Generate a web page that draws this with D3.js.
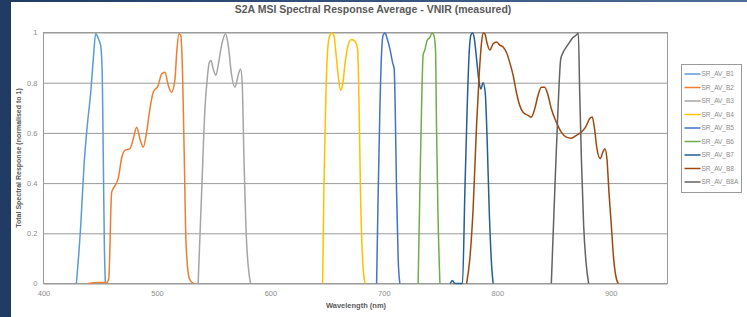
<!DOCTYPE html>
<html>
<head>
<meta charset="utf-8">
<script src="https://cdn.jsdelivr.net/npm/d3@7.9.0/dist/d3.min.js"></script>
<style>
  html, body { margin: 0; padding: 0; background: #fff; }
  svg { display: block; font-family: "Liberation Sans", Arial, sans-serif; }
</style>
</head>
<body>
<script>
// band names and colours (Excel 2013 palette)
const bands = ["SR_AV_B1", "SR_AV_B2", "SR_AV_B3", "SR_AV_B4", "SR_AV_B5", "SR_AV_B6", "SR_AV_B7", "SR_AV_B8", "SR_AV_B8A"]
const colors = ["#5b9bd5", "#ed7d31", "#a5a5a5", "#ffc000", "#4472c4", "#70ad47", "#255e91", "#9e480e", "#636363"]

// [wavelength nm, response]
const B1 = [[429, 0], [432.8, 0.23], [435.7, 0.47], [438.6, 0.63], [441.6, 0.76], [443.9, 0.895], [446, 0.995],
  [448.3, 0.976], [450.4, 0.948], [451.8, 0.83], [452.7, 0.5], [453.6, 0.165], [454.5, 0]]
const B2 = [[439.5, 0], [448, 0.004], [455.7, 0.004], [457.5, 0.02], [460.1, 0.364], [463, 0.39], [465.9, 0.42],
  [468.9, 0.5], [471.8, 0.53], [476.2, 0.537], [479.1, 0.576], [482.1, 0.623], [485, 0.576], [487.9, 0.543],
  [490.9, 0.603], [493.8, 0.696], [496.7, 0.762], [501.1, 0.789], [504.1, 0.835], [507, 0.842], [510, 0.789],
  [512.9, 0.762], [515.9, 0.815], [517.4, 0.92], [519.4, 0.995], [520.9, 0.99], [522.6, 0.83], [524.1, 0.497],
  [525.6, 0.165], [528.5, 0.02], [532, 0]]
const B3 = [[536.3, 0], [539.4, 0.365], [542.3, 0.696], [544.3, 0.815], [546.1, 0.88], [547.6, 0.888], [549.6, 0.855],
  [552, 0.83], [554, 0.87], [557, 0.95], [560.5, 0.995], [562.8, 0.95], [565.8, 0.83], [568.7, 0.782], [571.6, 0.83],
  [573.7, 0.855], [575.1, 0.802], [576.7, 0.497], [579, 0.165], [582.5, 0]]
const B4 = [[646, 0], [647.1, 0.365], [648.6, 0.696], [650, 0.895], [651.8, 0.98], [653.9, 0.998], [655.9, 0.99],
  [657.7, 0.92], [659.7, 0.83], [661.8, 0.77], [663.6, 0.79], [665.6, 0.87], [668.5, 0.95], [671.5, 0.972],
  [674.4, 0.965], [676.8, 0.935], [678.2, 0.696], [679.4, 0.365], [681.2, 0.1], [683.3, 0]]
const B5 = [[693.6, 0], [695, 0.365], [696.5, 0.696], [698, 0.92], [699.4, 0.99], [701.2, 0.998], [702.9, 0.975],
  [705.3, 0.935], [707.7, 0.88], [709.1, 0.855], [710, 0.696], [711.2, 0.365], [712.6, 0.1], [714.1, 0]]
const B6 = [[730.2, 0], [731.7, 0.365], [733.2, 0.696], [734.6, 0.91], [736.1, 0.93], [738.1, 0.968], [740.5, 0.98],
  [742.5, 0.998], [744, 0.99], [745.5, 0.935], [746.4, 0.63], [747.6, 0.3], [749.4, 0]]
const B7 = [[758.5, 0], [760.5, 0.012], [762.5, 0], [769.3, 0], [771.4, 0.365], [773.4, 0.696], [775.2, 0.92],
  [776.7, 0.99], [778.2, 0.998], [779.6, 0.98], [781.7, 0.895], [784, 0.8], [785.5, 0.775], [787.5, 0.8],
  [789.3, 0.762], [791.1, 0.563], [792.8, 0.3], [795, 0.07], [796.3, 0]]
const B8 = [[772.9, 0], [775.8, 0.1], [778.7, 0.3], [781.7, 0.63], [784, 0.83], [786.1, 0.96], [787.5, 0.998],
  [789, 0.995], [791.1, 0.955], [793.4, 0.93], [796.3, 0.955], [799.3, 0.962], [802.2, 0.95], [805.1, 0.942],
  [808.1, 0.92], [811, 0.88], [813.9, 0.83], [816.8, 0.762], [819.7, 0.71], [822.7, 0.682], [827.1, 0.67],
  [830, 0.663], [833, 0.696], [835.9, 0.75], [838.8, 0.782], [841.7, 0.782], [844.7, 0.75], [847.6, 0.696],
  [852, 0.643], [856.4, 0.603], [860.8, 0.583], [865.2, 0.579], [869.6, 0.59], [874, 0.603], [877.8, 0.623],
  [881.3, 0.656], [883.7, 0.663], [885.7, 0.616], [887.8, 0.537], [890.8, 0.497], [893, 0.523], [894.8, 0.537],
  [896.6, 0.497], [898.4, 0.364], [900.5, 0.23], [902.5, 0.1], [904.9, 0.02], [906.6, 0]]
const B8A = [[847.6, 0], [850.6, 0.365], [853.5, 0.696], [855.9, 0.895], [857.9, 0.92], [860.8, 0.942], [863.8, 0.962],
  [866.7, 0.98], [869.6, 0.99], [871.4, 0.998], [872.6, 0.762], [874.1, 0.497], [876.1, 0.23], [878.5, 0.07], [880.5, 0]]

const series = [B1, B2, B3, B4, B5, B6, B7, B8, B8A]

// axis ticks
const xTicks = [400, 500, 600, 700, 800, 900]
const yTicks = [0, 0.2, 0.4, 0.6, 0.8, 1]

const width = 747, height = 317
const plotLeft = 43.5, plotRight = 667.5, plotTop = 32.5, plotBottom = 283.5

const x = d3.scaleLinear().domain([400, 950]).range([plotLeft, plotRight])
const y = d3.scaleLinear().domain([0, 1]).range([plotBottom, plotTop])

const svg = d3.select("body").append("svg")
    .attr("width", width)
    .attr("height", height)
    .attr("viewBox", [0, 0, width, height])

// slide background showing at the edges
const grad = svg.append("defs").append("linearGradient")
    .attr("id", "edge").attr("x1", 0).attr("x2", 1)
grad.append("stop").attr("offset", 0).attr("stop-color", "#1f3b63")
grad.append("stop").attr("offset", 1).attr("stop-color", "#4d6d98")
svg.append("rect").attr("width", width).attr("height", height).attr("fill", "url(#edge)")
svg.append("rect")
    .attr("x", 11).attr("y", 2)
    .attr("width", width - 11).attr("height", height - 2)
    .attr("fill", "#fff")

// gridlines + plot frame
svg.append("g")
    .attr("transform", `translate(${plotLeft},0)`)
    .call(d3.axisLeft(y).tickValues(yTicks).tickSize(-(plotRight - plotLeft)).tickFormat(d => d3.format("~g")(d)).tickPadding(6))
    .call(g => g.select(".domain").remove())
    .call(g => g.selectAll(".tick line").attr("stroke", "#9a9a9a"))
    .call(g => g.selectAll(".tick text").attr("fill", "#8c8c8c").attr("font-size", 7.5))

svg.append("rect")
    .attr("x", plotLeft).attr("y", plotTop)
    .attr("width", plotRight - plotLeft).attr("height", plotBottom - plotTop)
    .attr("fill", "none").attr("stroke", "#9a9a9a")

svg.append("g")
    .attr("transform", `translate(0,${plotBottom})`)
    .call(d3.axisBottom(x).tickValues(xTicks).tickSize(0).tickPadding(7))
    .call(g => g.select(".domain").remove())
    .call(g => g.selectAll(".tick text").attr("fill", "#8c8c8c").attr("font-size", 7.5))

// curves
const line = d3.line()
    .curve(d3.curveMonotoneX)
    .x(d => x(d[0]))
    .y(d => y(d[1]))

svg.append("g")
    .attr("fill", "none")
    .attr("stroke-width", 1.5)
    .attr("stroke-linejoin", "round")
  .selectAll("path")
  .data(series)
  .join("path")
    .attr("stroke", (d, i) => colors[i])
    .attr("d", line)

// titles
svg.append("text")
    .attr("x", 373).attr("y", 13)
    .attr("text-anchor", "middle")
    .attr("font-size", 10.5).attr("font-weight", "bold")
    .attr("fill", "#595959")
    .text("S2A MSI Spectral Response Average - VNIR (measured)")

svg.append("text")
    .attr("x", 356).attr("y", 308)
    .attr("text-anchor", "middle")
    .attr("font-size", 7.5).attr("font-weight", "bold")
    .attr("fill", "#595959")
    .text("Wavelength (nm)")

svg.append("text")
    .attr("transform", `translate(21,${(plotTop + plotBottom) / 2}) rotate(-90)`)
    .attr("text-anchor", "middle")
    .attr("font-size", 7).attr("font-weight", "bold")
    .attr("fill", "#595959")
    .text("Total Spectral Response (normalised to 1)")

// legend
const legend = svg.append("g").attr("transform", "translate(681.5,64.5)")
legend.append("rect")
    .attr("width", 60).attr("height", 128)
    .attr("fill", "#fff").attr("stroke", "#9a9a9a")

const item = legend.selectAll("g")
  .data(bands)
  .join("g")
    .attr("transform", (d, i) => `translate(0,${9.5 + i * 13.5})`)

item.append("line")
    .attr("x1", 3).attr("x2", 19)
    .attr("stroke", (d, i) => colors[i])
    .attr("stroke-width", 1.5)

item.append("text")
    .attr("x", 20).attr("dy", "0.35em")
    .attr("font-size", 6.5)
    .attr("fill", "#8c8c8c")
    .text(d => d)
</script>
</body>
</html>
